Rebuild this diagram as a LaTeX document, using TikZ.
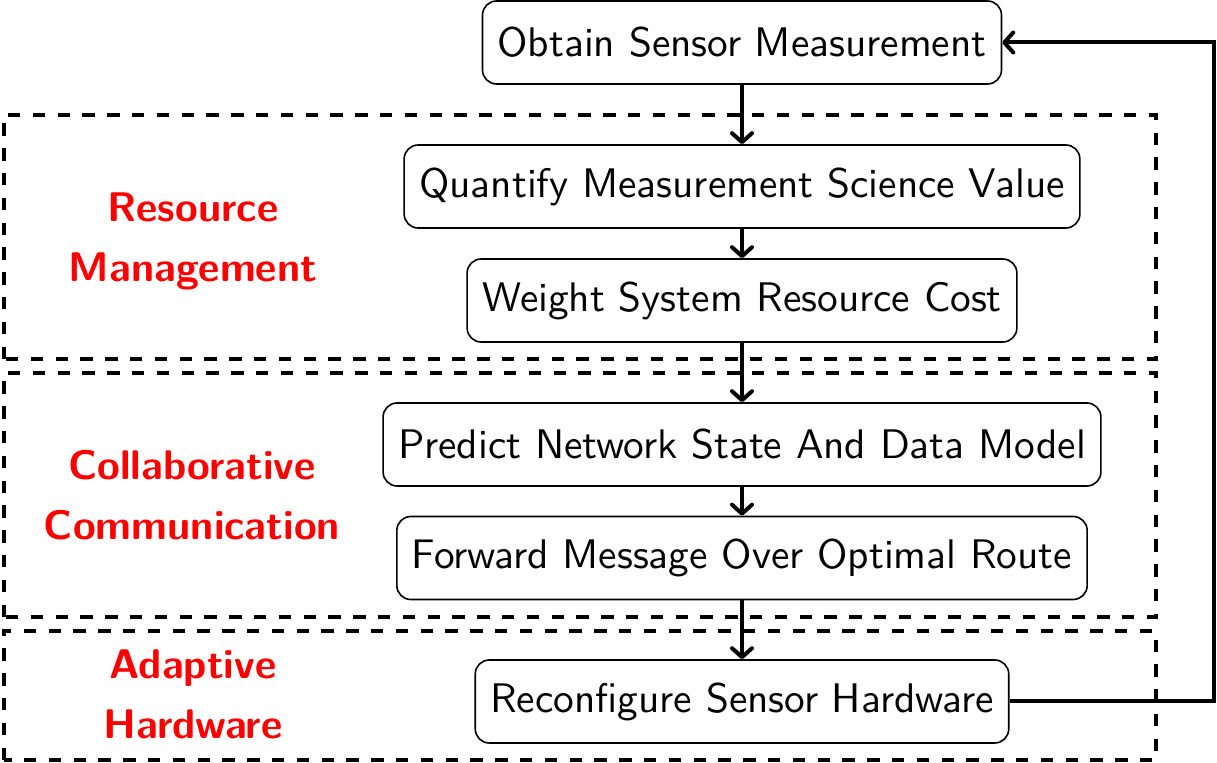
\documentclass[tikz,border=0pt]{standalone}
\usetikzlibrary{arrows.meta}
\newcommand\bigtxt[1]{\scalebox{2.066}{\fontsize{10}{12}\selectfont #1}}
\begin{document}
\begin{tikzpicture}[x=0.5pt,y=-0.5pt,
  font=\sffamily,
  stepbox/.style={draw, line width=0.8pt, rounded corners=7pt, minimum height=41.5pt, inner xsep=7.5pt, inner ysep=0pt},
  grp/.style={draw, line width=1.6pt, dash pattern=on 6.2pt off 6.2pt},
  lbl/.style={text=red, font=\sffamily\bfseries\fontsize{20.7}{30}\selectfont, align=center, inner sep=0pt},
  flow/.style={line width=2pt, -{Straight Barb[length=4.5pt,width=10pt,round]}},
  fb/.style={line width=2pt, -{Straight Barb[length=4.5pt,width=10pt,round]}}]
\useasboundingbox (0,0) rectangle (1217,763);
% group frames
\draw[grp] (4,359) -- (4,115) -- (1156,115) -- (1156,359) -- cycle;
\draw[grp] (4,617) -- (4,373) -- (1156,373) -- (1156,617) -- cycle;
\draw[grp] (4,760) -- (4,631) -- (1156,631) -- (1156,760) -- cycle;
% labels
\node[lbl] (rm) at (193,241.5) {Resource\\Management};
\node[lbl] (cc) at (192,495) {Collaborative\\Communication};
\node[lbl] (ah) at (193,694) {Adaptive\\Hardware};
% steps
\node[stepbox] (obtain) at (742,42.5) {\bigtxt{Obtain Sensor Measurement}};
\node[stepbox] (quant) at (742,186.5) {\bigtxt{Quantify Measurement Science Value}};
\node[stepbox] (weight) at (742,300.5) {\bigtxt{Weight System Resource Cost}};
\node[stepbox] (pred) at (742,444.5) {\bigtxt{Predict Network State And Data Model}};
\node[stepbox] (fwd) at (742,558) {\bigtxt{Forward Message Over Optimal Route}};
\node[stepbox] (recon) at (742,701.5) {\bigtxt{Reconfigure Sensor Hardware}};
% connectors
\draw[flow] (obtain) -- (quant);
\draw[flow] (quant) -- (weight);
\draw[flow] (weight) -- (pred);
\draw[flow] (pred) -- (fwd);
\draw[flow] (fwd) -- (recon);
\coordinate (fbx) at (1214,0);
\draw[fb] (recon.east) -- (recon.east -| fbx) |- (obtain.east);
\end{tikzpicture}
\end{document}
